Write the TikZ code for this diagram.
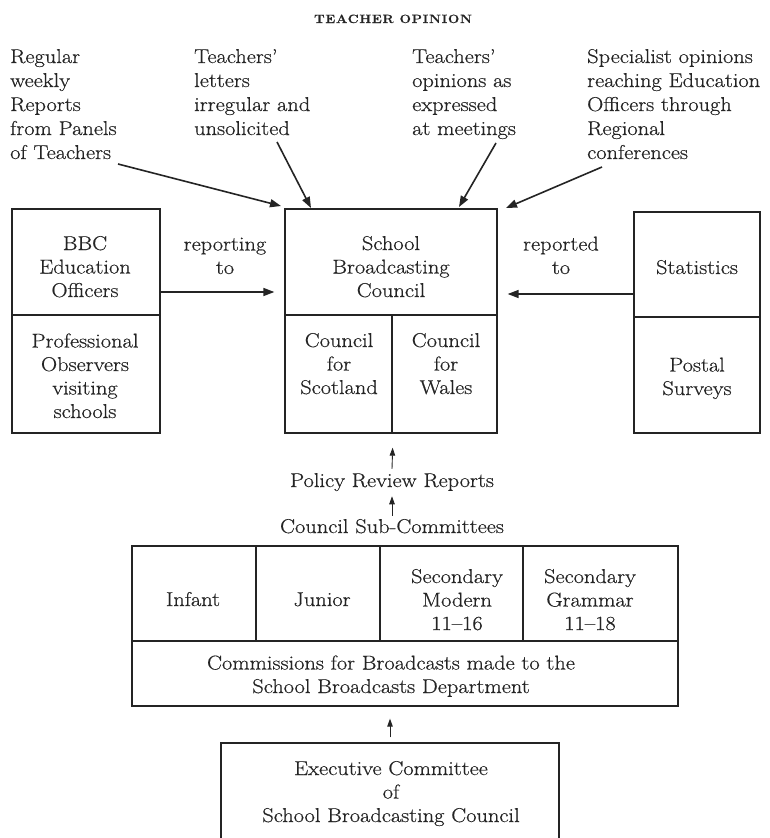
\documentclass[tikz,border=0pt]{standalone}
\usepackage{fontspec}
\setmainfont{Latin Modern Roman}[FakeStretch=1.12, FakeBold=0.5]
\usetikzlibrary{arrows.meta,fit}
\definecolor{ink}{gray}{0.14}
\tikzset{
  cell/.style={draw=ink, line width=1.3pt, inner sep=0pt, rectangle},
  txt/.style={text=ink, font=\fontsize{20}{23.5}\selectfont, align=center, anchor=base, inner sep=0pt},
  ltxt/.style={text=ink, font=\fontsize{20}{24}\selectfont, align=left, anchor=base west, inner sep=0pt},
  bigarrow/.style={draw=ink, line width=1.6pt, -{Triangle[length=11pt,width=8pt]}},
  smallarrow/.style={draw=ink, line width=0.9pt, -{Triangle[length=8pt,width=5.5pt]}},
}
\begin{document}
\begin{tikzpicture}[x=1pt,y=-1pt]
\useasboundingbox (0,0) rectangle (769,838);
\fill[white] (0,0) rectangle (769,838);

% title (multi-line nodes below are anchored at the baseline of their last line)
\node[anchor=base, inner sep=0pt, text=ink, font=\fontsize{12}{14}\selectfont\bfseries\addfontfeature{LetterSpace=6}] (title) at (393,23) {TEACHER OPINION};

% top sources
\node[ltxt] (src1) at (10,159) {Regular\\weekly\\Reports\\from Panels\\of Teachers};
\node[ltxt] (src2) at (194,135) {Teachers'\\letters\\irregular and\\unsolicited};
\node[ltxt] (src3) at (412,135) {Teachers'\\opinions as\\expressed\\at meetings};
\node[ltxt] (src4) at (587,159) {Specialist opinions\\reaching Education\\Officers through\\Regional\\conferences};

% boxes
\node[cell, fit={(12,209) (160,315)}] (bbcT) {};
\node[cell, fit={(12,315) (160,433)}] (bbcB) {};
\node[cell, fit={(285,209) (497,315)}] (sbcT) {};
\node[cell, fit={(285,315) (392,433)}] (scot) {};
\node[cell, fit={(392,315) (497,433)}] (wales) {};
\node[cell, fit={(634,212) (760,317)}] (statT) {};
\node[cell, fit={(634,317) (760,433)}] (statB) {};

\node[cell, fit={(132,546) (256,641)}] (infant) {};
\node[cell, fit={(256,546) (380,641)}] (junior) {};
\node[cell, fit={(380,546) (523,641)}] (secmod) {};
\node[cell, fit={(523,546) (678,641)}] (secgram) {};
\node[cell, fit={(132,641) (678,706)}] (comm) {};
\node[cell, fit={(221,743) (559,850)}] (exec) {};

% box texts
\node[txt] (tbbc) at (85,297) {BBC\\Education\\Officers};
\node[txt] (tprof) at (85,418) {Professional\\Observers\\visiting\\schools};
\node[txt] (trep) at (225,274) {reporting\\to};
\node[txt] (tsbc) at (391,297) {School\\Broadcasting\\Council};
\node[txt] (tscot) at (339,394) {Council\\for\\Scotland};
\node[txt] (twales) at (446,394) {Council\\for\\Wales};
\node[txt] (treped) at (561,274) {reported\\to};
\node[txt] (tstat) at (697,274) {Statistics};
\node[txt] (tpost) at (697,395) {Postal\\Surveys};

\node[txt] (prr) at (392,487) {Policy Review Reports};
\node[txt] (csc) at (392,533) {Council Sub-Committees};

\node[txt] (tinf) at (193,606) {Infant};
\node[txt] (tjun) at (322,606) {Junior};
\node[txt] (tsm) at (457,630) {Secondary\\Modern\\11--16};
\node[txt] (tsg) at (590,630) {Secondary\\Grammar\\11--18};
\node[txt] (tcomm) at (391,693) {Commissions for Broadcasts made to the\\School Broadcasts Department};
\node[txt] (texec) at (391,822) {Executive Committee\\of\\School Broadcasting Council};

% arrow end points
\coordinate (a1s) at (118,164);
\coordinate (a1e) at (281,206);
\coordinate (a2s) at (277,142);
\coordinate (a2e) at (311,208);
\coordinate (a3s) at (496,143);
\coordinate (a3e) at (459,207);
\coordinate (a4s) at (602,167);
\coordinate (a4e) at (506,208);

\draw[bigarrow] (a1s) -- (a1e);
\draw[bigarrow] (a2s) -- (a2e);
\draw[bigarrow] (a3s) -- (a3e);
\draw[bigarrow] (a4s) -- (a4e);

\draw[bigarrow, shorten >=10pt] (bbcT.east |- 0,292) -- (sbcT.west |- 0,292);
\draw[bigarrow, shorten >=10pt] (statT.west |- 0,294) -- (sbcT.east |- 0,294);

\draw[smallarrow] ([yshift=4pt]prr.north) -- ([yshift=-14pt]scot.south east);
\draw[smallarrow] ([yshift=3pt]csc.north) -- ([yshift=-5pt]prr.south);
\draw[smallarrow, shorten <=5pt, shorten >=12pt] (exec.north) -- (exec.north |- comm.south);
\end{tikzpicture}
\end{document}
